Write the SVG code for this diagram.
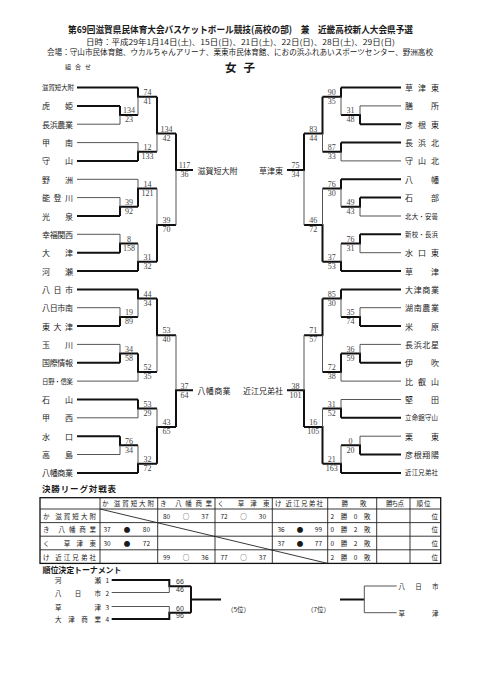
<svg xmlns="http://www.w3.org/2000/svg" width="481" height="680" viewBox="0 0 481 680">
<style>
text{font-family:"Noto Sans CJK JP","Noto Sans",sans-serif;fill:#1a1a1a}
.tn{font-size:8px;dominant-baseline:central}
.sm{font-size:6.4px}
.sc{font-family:"Liberation Serif",serif;font-size:8px;fill:#444;text-anchor:middle}
.tb{font-size:6.5px;dominant-baseline:central}
.ps{font-family:"Liberation Sans",sans-serif;font-size:7px;fill:#333;text-anchor:middle}
.thk{stroke:#111;stroke-width:2;fill:none}
.thn{stroke:#555;stroke-width:1;fill:none}
.tl{stroke:#222;stroke-width:0.9;fill:none}
.tlb{stroke:#111;stroke-width:1.3;fill:none}
</style>
<rect width="481" height="680" fill="#fff"/>
<g id="header">
<text x="240.5" y="33" text-anchor="middle" font-size="9.5" font-weight="bold" textLength="345" lengthAdjust="spacingAndGlyphs">第69回滋賀県民体育大会バスケットボール競技(高校の部)　兼　近畿高校新人大会県予選</text>
<text x="240.5" y="45" text-anchor="middle" font-size="7.5" textLength="309" lengthAdjust="spacingAndGlyphs">日時：平成29年1月14日(土)、15日(日)、21日(土)、22日(日)、28日(土)、29日(日)</text>
<text x="240" y="55" text-anchor="middle" font-size="7.5" textLength="386" lengthAdjust="spacingAndGlyphs">会場：守山市民体育館、ウカルちゃんアリーナ、栗東市民体育館、におの浜ふれあいスポーツセンター、野洲高校</text>
<text x="65" y="69" font-size="6" textLength="26" lengthAdjust="spacing">組合せ</text>
<text x="240" y="71.5" text-anchor="middle" font-size="11.5" font-weight="bold" textLength="30" lengthAdjust="spacing">女子</text>
</g>
<g id="connectors">
<path class="thk" d="M77 87.5H138M77 105.9H120M77 160.9H138M77 216H120M77 252.7H120M77 271H138M77 289.4H138M77 326.1H120M77 362.8H120M77 399.5H138M77 436.2H120M77 472.9H138"/>
<path class="thn" d="M77 124.2H120M77 142.6H138M77 179.3H138M77 197.6H120M77 234.3H120M77 307.7H120M77 344.4H120M77 381.1H138M77 417.8H138M77 454.5H120"/>
<path class="thk" d="M120 105.9V115.1H138M138 87.5V96.7H157M138 160.9V151.7H157M157 96.7V133.4H176M120 216V206.8H138M138 206.8V188.4H157M120 252.7V243.5H138M138 271V261.8H157M157 261.8V225.1H176M176 133.4V170.1H193M120 326.1V316.9H138M138 289.4V298.5H157M120 362.8V353.6H138M138 353.6V371.9H157M157 298.5V335.2H176M138 399.5V408.6H157M120 436.2V445.3H138M138 472.9V463.7H157M157 463.7V427H176M176 427V390.3H193"/>
<path class="thn" d="M120 124.2V115.1M138 115.1V96.7M138 142.6V151.7M157 151.7V133.4M120 197.6V206.8M138 179.3V188.4M120 234.3V243.5M138 243.5V261.8M157 188.4V225.1M176 225.1V170.1M120 307.7V316.9M138 316.9V298.5M120 344.4V353.6M138 381.1V371.9M157 371.9V335.2M138 417.8V408.6M120 454.5V445.3M138 445.3V463.7M157 408.6V427M176 335.2V390.3"/>
<path class="thk" d="M401 87.5H341M401 124.2H360M401 142.6H341M401 179.3H341M401 197.6H360M401 234.3H360M401 271H341M401 289.4H341M401 326.1H360M401 362.8H360M401 417.8H341M401 454.5H360M401 472.9H341"/>
<path class="thn" d="M401 105.9H360M401 160.9H341M401 216H360M401 252.7H360M401 307.7H360M401 344.4H360M401 381.1H341M401 399.5H341M401 436.2H360"/>
<path class="thk" d="M360 124.2V115.1H341M341 87.5V96.7H322.5M341 142.6V151.7H322.5M322.5 96.7V133.4H304M360 197.6V206.8H341M341 179.3V188.4H322.5M360 234.3V243.5H341M341 271V261.8H322.5M322.5 261.8V225.1H304M304 133.4V170.1H287M360 326.1V316.9H341M341 289.4V298.5H322.5M360 362.8V353.6H341M341 353.6V371.9H322.5M322.5 298.5V335.2H304M341 417.8V408.6H322.5M360 454.5V445.3H341M341 472.9V463.7H322.5M322.5 463.7V427H304M304 427V390.3H287"/>
<path class="thn" d="M360 105.9V115.1M341 115.1V96.7M341 160.9V151.7M322.5 151.7V133.4M360 216V206.8M341 206.8V188.4M360 252.7V243.5M341 243.5V261.8M322.5 188.4V225.1M304 225.1V170.1M360 307.7V316.9M341 316.9V298.5M360 344.4V353.6M341 381.1V371.9M322.5 371.9V335.2M341 399.5V408.6M360 436.2V445.3M341 445.3V463.7M322.5 408.6V427M304 335.2V390.3"/>
<path class="thk" d="M111.7 580H169.3V586.2H191M111.7 619H169.3V612.8H191M191 586.2V612.8M191 599.5H221M340 599.5H364.3" stroke-width="1.7"/>
<path class="thn" d="M111.7 592.5H169.3V586.2M111.7 606.5H169.3V612.8M364.3 586V612.7M364.3 586H396.7M364.3 612.7H396.7" stroke-width="1.1"/>
</g>
<g id="scores">
<text class="sc" x="129" y="113.3">134</text><text class="sc" x="129" y="122.3">23</text>
<text class="sc" x="147.5" y="94.9">74</text><text class="sc" x="147.5" y="103.9">41</text>
<text class="sc" x="147.5" y="149.9">12</text><text class="sc" x="147.5" y="158.9">133</text>
<text class="sc" x="166.5" y="131.6">134</text><text class="sc" x="166.5" y="140.6">42</text>
<text class="sc" x="129" y="205">39</text><text class="sc" x="129" y="214">92</text>
<text class="sc" x="147.5" y="186.6">14</text><text class="sc" x="147.5" y="195.6">121</text>
<text class="sc" x="129" y="241.7">8</text><text class="sc" x="129" y="250.7">158</text>
<text class="sc" x="147.5" y="260">31</text><text class="sc" x="147.5" y="269">32</text>
<text class="sc" x="166.5" y="223.3">39</text><text class="sc" x="166.5" y="232.3">70</text>
<text class="sc" x="184.5" y="168.3">117</text><text class="sc" x="184.5" y="177.3">36</text>
<text class="sc" x="129" y="315.1">19</text><text class="sc" x="129" y="324.1">89</text>
<text class="sc" x="147.5" y="296.7">44</text><text class="sc" x="147.5" y="305.7">34</text>
<text class="sc" x="129" y="351.8">34</text><text class="sc" x="129" y="360.8">58</text>
<text class="sc" x="147.5" y="370.1">52</text><text class="sc" x="147.5" y="379.1">35</text>
<text class="sc" x="166.5" y="333.4">53</text><text class="sc" x="166.5" y="342.4">40</text>
<text class="sc" x="147.5" y="406.8">53</text><text class="sc" x="147.5" y="415.8">29</text>
<text class="sc" x="129" y="443.5">76</text><text class="sc" x="129" y="452.5">34</text>
<text class="sc" x="147.5" y="461.9">32</text><text class="sc" x="147.5" y="470.9">72</text>
<text class="sc" x="166.5" y="425.2">43</text><text class="sc" x="166.5" y="434.2">65</text>
<text class="sc" x="184.5" y="388.5">37</text><text class="sc" x="184.5" y="397.5">64</text>
<text class="sc" x="350.5" y="113.3">31</text><text class="sc" x="350.5" y="122.3">48</text>
<text class="sc" x="331.75" y="94.9">90</text><text class="sc" x="331.75" y="103.9">35</text>
<text class="sc" x="331.75" y="149.9">87</text><text class="sc" x="331.75" y="158.9">33</text>
<text class="sc" x="313.25" y="131.6">83</text><text class="sc" x="313.25" y="140.6">44</text>
<text class="sc" x="350.5" y="205">49</text><text class="sc" x="350.5" y="214">43</text>
<text class="sc" x="331.75" y="186.6">76</text><text class="sc" x="331.75" y="195.6">30</text>
<text class="sc" x="350.5" y="241.7">76</text><text class="sc" x="350.5" y="250.7">31</text>
<text class="sc" x="331.75" y="260">37</text><text class="sc" x="331.75" y="269">53</text>
<text class="sc" x="313.25" y="223.3">46</text><text class="sc" x="313.25" y="232.3">72</text>
<text class="sc" x="295.5" y="168.3">75</text><text class="sc" x="295.5" y="177.3">34</text>
<text class="sc" x="350.5" y="315.1">35</text><text class="sc" x="350.5" y="324.1">74</text>
<text class="sc" x="331.75" y="296.7">85</text><text class="sc" x="331.75" y="305.7">30</text>
<text class="sc" x="350.5" y="351.8">36</text><text class="sc" x="350.5" y="360.8">59</text>
<text class="sc" x="331.75" y="370.1">72</text><text class="sc" x="331.75" y="379.1">38</text>
<text class="sc" x="313.25" y="333.4">71</text><text class="sc" x="313.25" y="342.4">57</text>
<text class="sc" x="331.75" y="406.8">31</text><text class="sc" x="331.75" y="415.8">52</text>
<text class="sc" x="350.5" y="443.5">0</text><text class="sc" x="350.5" y="452.5">20</text>
<text class="sc" x="331.75" y="461.9">21</text><text class="sc" x="331.75" y="470.9">163</text>
<text class="sc" x="313.25" y="425.2">16</text><text class="sc" x="313.25" y="434.2">105</text>
<text class="sc" x="295.5" y="388.5">38</text><text class="sc" x="295.5" y="397.5">101</text>
<text class="ps" x="180" y="584.3">66</text><text class="ps" x="180" y="591.8">46</text>
<text class="ps" x="180" y="610.9">60</text><text class="ps" x="180" y="618.4">96</text>
</g>
<g id="L0"><text class="tn sm" x="42" y="87.5" textLength="32" lengthAdjust="spacing">滋賀短大附</text></g>
<g id="L1"><text class="tn" x="42" y="105.9" textLength="31" lengthAdjust="spacing">虎姫</text></g>
<g id="L2"><text class="tn" x="42" y="124.2" textLength="31" lengthAdjust="spacing">長浜農業</text></g>
<g id="L3"><text class="tn" x="42" y="142.6" textLength="31" lengthAdjust="spacing">甲南</text></g>
<g id="L4"><text class="tn" x="42" y="160.9" textLength="31" lengthAdjust="spacing">守山</text></g>
<g id="L5"><text class="tn" x="42" y="179.3" textLength="31" lengthAdjust="spacing">野洲</text></g>
<g id="L6"><text class="tn" x="42" y="197.6" textLength="31" lengthAdjust="spacing">能登川</text></g>
<g id="L7"><text class="tn" x="42" y="216" textLength="31" lengthAdjust="spacing">光泉</text></g>
<g id="L8"><text class="tn" x="42" y="234.3" textLength="31" lengthAdjust="spacing">幸福関西</text></g>
<g id="L9"><text class="tn" x="42" y="252.7" textLength="31" lengthAdjust="spacing">大津</text></g>
<g id="L10"><text class="tn" x="42" y="271" textLength="31" lengthAdjust="spacing">河瀬</text></g>
<g id="L11"><text class="tn" x="42" y="289.4" textLength="31" lengthAdjust="spacing">八日市</text></g>
<g id="L12"><text class="tn" x="42" y="307.7" textLength="31" lengthAdjust="spacing">八日市南</text></g>
<g id="L13"><text class="tn" x="42" y="326.1" textLength="31" lengthAdjust="spacing">東大津</text></g>
<g id="L14"><text class="tn" x="42" y="344.4" textLength="31" lengthAdjust="spacing">玉川</text></g>
<g id="L15"><text class="tn" x="42" y="362.8" textLength="31" lengthAdjust="spacing">国際情報</text></g>
<g id="L16"><text class="tn sm" x="42" y="381.1" textLength="31" lengthAdjust="spacing">日野・信楽</text></g>
<g id="L17"><text class="tn" x="42" y="399.5" textLength="31" lengthAdjust="spacing">石山</text></g>
<g id="L18"><text class="tn" x="42" y="417.8" textLength="31" lengthAdjust="spacing">甲西</text></g>
<g id="L19"><text class="tn" x="42" y="436.2" textLength="31" lengthAdjust="spacing">水口</text></g>
<g id="L20"><text class="tn" x="42" y="454.5" textLength="31" lengthAdjust="spacing">高島</text></g>
<g id="L21"><text class="tn" x="42" y="472.9" textLength="31" lengthAdjust="spacing">八幡商業</text></g>
<g id="R0"><text class="tn" x="405" y="87.5" textLength="34" lengthAdjust="spacing">草津東</text></g>
<g id="R1"><text class="tn" x="405" y="105.9" textLength="34" lengthAdjust="spacing">膳所</text></g>
<g id="R2"><text class="tn" x="405" y="124.2" textLength="34" lengthAdjust="spacing">彦根東</text></g>
<g id="R3"><text class="tn" x="405" y="142.6" textLength="34" lengthAdjust="spacing">長浜北</text></g>
<g id="R4"><text class="tn" x="405" y="160.9" textLength="34" lengthAdjust="spacing">守山北</text></g>
<g id="R5"><text class="tn" x="405" y="179.3" textLength="34" lengthAdjust="spacing">八幡</text></g>
<g id="R6"><text class="tn" x="405" y="197.6" textLength="34" lengthAdjust="spacing">石部</text></g>
<g id="R7"><text class="tn sm" x="405" y="216" textLength="33" lengthAdjust="spacing">北大・安曇</text></g>
<g id="R8"><text class="tn sm" x="405" y="234.3" textLength="33" lengthAdjust="spacing">新校・長浜</text></g>
<g id="R9"><text class="tn" x="405" y="252.7" textLength="34" lengthAdjust="spacing">水口東</text></g>
<g id="R10"><text class="tn" x="405" y="271" textLength="34" lengthAdjust="spacing">草津</text></g>
<g id="R11"><text class="tn" x="405" y="289.4" textLength="34" lengthAdjust="spacing">大津商業</text></g>
<g id="R12"><text class="tn" x="405" y="307.7" textLength="34" lengthAdjust="spacing">湖南農業</text></g>
<g id="R13"><text class="tn" x="405" y="326.1" textLength="34" lengthAdjust="spacing">米原</text></g>
<g id="R14"><text class="tn" x="405" y="344.4" textLength="34" lengthAdjust="spacing">長浜北星</text></g>
<g id="R15"><text class="tn" x="405" y="362.8" textLength="34" lengthAdjust="spacing">伊吹</text></g>
<g id="R16"><text class="tn" x="405" y="381.1" textLength="34" lengthAdjust="spacing">比叡山</text></g>
<g id="R17"><text class="tn" x="405" y="399.5" textLength="34" lengthAdjust="spacing">堅田</text></g>
<g id="R18"><text class="tn sm" x="405" y="417.8" textLength="33" lengthAdjust="spacing">立命館守山</text></g>
<g id="R19"><text class="tn" x="405" y="436.2" textLength="34" lengthAdjust="spacing">栗東</text></g>
<g id="R20"><text class="tn" x="405" y="454.5" textLength="34" lengthAdjust="spacing">彦根翔陽</text></g>
<g id="R21"><text class="tn sm" x="405" y="472.9" textLength="33" lengthAdjust="spacing">近江兄弟社</text></g>
<g id="winL1"><text class="tn" x="197.5" y="170.1" textLength="40" lengthAdjust="spacing">滋賀短大附</text></g>
<g id="winL2"><text class="tn" x="197.5" y="390.3" textLength="33" lengthAdjust="spacing">八幡商業</text></g>
<g id="winR1"><text class="tn" x="283" y="170.1" text-anchor="end">草津東</text></g>
<g id="winR2"><text class="tn" x="283" y="390.3" text-anchor="end" textLength="40" lengthAdjust="spacing">近江兄弟社</text></g>
<g id="league">
<text x="42" y="491.5" font-size="8.5" font-weight="bold" textLength="74" lengthAdjust="spacing">決勝リーグ対戦表</text>
<rect class="tlb" x="40" y="497.7" width="400.7" height="65.7"/>
<path class="tl" d="M40 509H440.7M40 522.6H440.7M40 536.2H440.7M40 549.8H440.7M100 497.7V563.4M157.7 497.7V563.4M215 497.7V563.4M272.3 497.7V563.4M327.7 497.7V563.4M376.7 497.7V563.4M410 497.7V563.4M100 509L327.7 563.4"/>
<g class="tb">
<text class="tb" x="102" y="503.3" textLength="52" lengthAdjust="spacing">か 滋賀短大附</text>
<text class="tb" x="160" y="503.3" textLength="52" lengthAdjust="spacing">き 八幡商業</text>
<text class="tb" x="217.5" y="503.3" textLength="52" lengthAdjust="spacing">く 草津東</text>
<text class="tb" x="275" y="503.3" textLength="48" lengthAdjust="spacing">け 近江兄弟社</text>
<text class="tb" x="341.5" y="503.3" textLength="25" lengthAdjust="spacing">勝敗</text>
<text class="tb" x="386" y="503.3" textLength="18" lengthAdjust="spacing">勝ち点</text>
<text class="tb" x="416.5" y="503.3" textLength="14" lengthAdjust="spacing">順位</text>
<text class="tb" x="43" y="515.8" textLength="53" lengthAdjust="spacing">か 滋賀短大附</text>
<text class="tb" x="43" y="529.4" textLength="53" lengthAdjust="spacing">き 八幡商業</text>
<text class="tb" x="43" y="543" textLength="53" lengthAdjust="spacing">く 草津東</text>
<text class="tb" x="43" y="556.6" textLength="53" lengthAdjust="spacing">け 近江兄弟社</text>
<text class="tb" x="163" y="515.8">80</text><text class="tb" x="186" y="515.8" text-anchor="middle">○</text><text class="tb" x="208.5" y="515.8" text-anchor="end">37</text>
<text class="tb" x="220.5" y="515.8">72</text><text class="tb" x="243.5" y="515.8" text-anchor="middle">○</text><text class="tb" x="266" y="515.8" text-anchor="end">30</text>
<text class="tb" x="103.5" y="529.4">37</text><text class="tb" x="127" y="529.4" text-anchor="middle">●</text><text class="tb" x="150" y="529.4" text-anchor="end">80</text>
<text class="tb" x="277.5" y="529.4">36</text><text class="tb" x="300" y="529.4" text-anchor="middle">●</text><text class="tb" x="322" y="529.4" text-anchor="end">99</text>
<text class="tb" x="103.5" y="543">30</text><text class="tb" x="127" y="543" text-anchor="middle">●</text><text class="tb" x="150" y="543" text-anchor="end">72</text>
<text class="tb" x="277.5" y="543">37</text><text class="tb" x="300" y="543" text-anchor="middle">●</text><text class="tb" x="322" y="543" text-anchor="end">77</text>
<text class="tb" x="163" y="556.6">99</text><text class="tb" x="186" y="556.6" text-anchor="middle">○</text><text class="tb" x="208.5" y="556.6" text-anchor="end">36</text>
<text class="tb" x="220.5" y="556.6">77</text><text class="tb" x="243.5" y="556.6" text-anchor="middle">○</text><text class="tb" x="266" y="556.6" text-anchor="end">37</text>
<text class="tb" x="330.5" y="515.8" textLength="40" lengthAdjust="spacing">2 勝 0 敗</text>
<text class="tb" x="330.5" y="529.4" textLength="40" lengthAdjust="spacing">0 勝 2 敗</text>
<text class="tb" x="330.5" y="543" textLength="40" lengthAdjust="spacing">0 勝 2 敗</text>
<text class="tb" x="330.5" y="556.6" textLength="40" lengthAdjust="spacing">2 勝 0 敗</text>
<text class="tb" x="438" y="515.8" text-anchor="end">位</text>
<text class="tb" x="438" y="529.4" text-anchor="end">位</text>
<text class="tb" x="438" y="543" text-anchor="end">位</text>
<text class="tb" x="438" y="556.6" text-anchor="end">位</text>
</g>
</g>
<g id="placement">
<text x="42.5" y="573" font-size="8" font-weight="bold" textLength="79" lengthAdjust="spacing">順位決定トーナメント</text>
<g id="P1"><text class="tb" x="55" y="580" textLength="46" lengthAdjust="spacing">河瀬</text><text class="tb" x="105.5" y="580">1</text></g>
<g id="P2"><text class="tb" x="55" y="592.5" textLength="46" lengthAdjust="spacing">八日市</text><text class="tb" x="105.5" y="592.5">2</text></g>
<g id="P3"><text class="tb" x="55" y="606.5" textLength="46" lengthAdjust="spacing">草津</text><text class="tb" x="105.5" y="606.5">3</text></g>
<g id="P4"><text class="tb" x="55" y="619" textLength="46" lengthAdjust="spacing">大津商業</text><text class="tb" x="105.5" y="619">4</text></g>
<text class="tb" x="227" y="609">（5位）</text>
<text class="tb" x="307" y="609">（7位）</text>
<g id="P7a"><text class="tb" x="398.5" y="586" textLength="40" lengthAdjust="spacing">八日市</text></g>
<g id="P7b"><text class="tb" x="398.5" y="612.7" textLength="40" lengthAdjust="spacing">草津</text></g>
</g>
</svg>
